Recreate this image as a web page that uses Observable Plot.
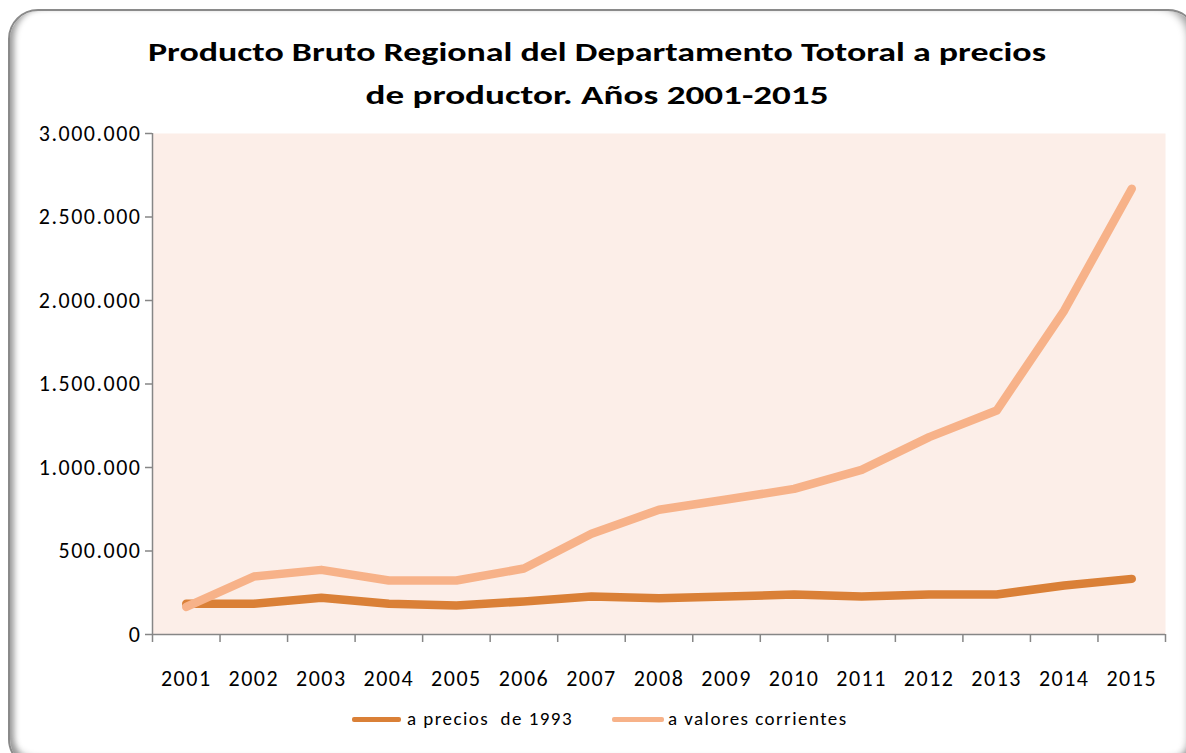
<!DOCTYPE html>
<html>
<head>
<meta charset="utf-8">
<script src="https://cdn.jsdelivr.net/npm/d3@7"></script>
<script src="https://cdn.jsdelivr.net/npm/@observablehq/plot@0.6"></script>
<style>
  html, body { margin: 0; padding: 0; background: #ffffff; }
  body { width: 1186px; height: 753px; position: relative; overflow: hidden; font-family: Carlito, Lato, sans-serif; }
  #frame {
    position: absolute; left: 8px; top: 9px; width: 1190px; height: 760px;
    box-sizing: border-box; border-radius: 30px;
    border: 2px solid #8a8a8a;
    background: #ffffff;
    box-shadow: inset 9px 0 6px -5px #9a9a9a, inset 0 -12px 8px -5px #8a8a8a, inset -12px 0 8px -5px #9a9a9a;
  }
  .tline {
    position: absolute; left: 597px; display: inline-block; white-space: nowrap;
    font-weight: 900; font-size: 27px; line-height: 27px; color: #000;
    transform-origin: 0 0;
  }
  #chart { position: absolute; left: 0; top: 120px; }
  #chart svg text { letter-spacing: 1.5px; }
  .leg { position: absolute; top: 707px; font-size: 19px; color: #000; white-space: nowrap; line-height: 24px; letter-spacing: 1.45px; }
  .sw { position: absolute; height: 5px; border-radius: 2px; top: 717px; }
</style>
</head>
<body>
<div id="frame"></div>
<span class="tline" id="t1" data-w="898" style="top:38px">Producto Bruto Regional del Departamento Totoral a precios</span>
<span class="tline" id="t2" data-w="463" style="top:81px">de productor. Años 2001-2015</span>
<div id="chart"></div>
<div class="sw" style="left:352px;width:49px;background:#DA8037"></div>
<div class="leg" style="left:407px">a precios&nbsp; de 1993</div>
<div class="sw" style="left:612px;width:52px;background:#F7B289"></div>
<div class="leg" style="left:668px">a valores corrientes</div>
<script>
const years = [2001, 2002, 2003, 2004, 2005, 2006, 2007, 2008, 2009, 2010, 2011, 2012, 2013, 2014, 2015];
const precios1993 = [184000, 184000, 220000, 184000, 174000, 198000, 228000, 217000, 227000, 240000, 228000, 240000, 240000, 293000, 333000];
const corrientes = [165000, 347000, 387000, 323000, 323000, 395000, 603000, 747000, 808000, 872000, 986000, 1182000, 1341000, 1940000, 2669000];
const yTicks = [0, 500000, 1000000, 1500000, 2000000, 2500000, 3000000];
const seriesNames = ["a precios de 1993", "a valores corrientes"];
const seriesColors = ["#DA8037", "#F7B289"];

// title lines: stretch horizontally to match the reference widths
for (const id of ["t1", "t2"]) {
  const el = document.getElementById(id);
  const w = el.getBoundingClientRect().width;
  const target = +el.dataset.w;
  const s = target / w;
  el.style.transform = `translateX(${-target / 2}px) scaleX(${s})`;
}

const dataA = years.map((y, i) => ({year: y, value: precios1993[i]}));
const dataB = years.map((y, i) => ({year: y, value: corrientes[i]}));
const boundaries = [years[0] - 0.5, ...years.map(y => y + 0.5)];

const loc = d3.formatLocale({decimal: ",", thousands: ".", grouping: [3], currency: ["", ""]});
const fmt = loc.format(",");

const chart = Plot.plot({
  width: 1186,
  height: 580,
  marginLeft: 152,
  marginRight: 21,
  marginTop: 13,
  marginBottom: 66,
  style: {background: "transparent", fontFamily: "Carlito, Lato, sans-serif", fontSize: "22px", color: "#000"},
  x: {domain: [boundaries[0], boundaries[boundaries.length - 1]], axis: null},
  y: {domain: [0, 3000000], axis: null},
  marks: [
    Plot.frame({fill: "#FCEEE8", stroke: null}),
    Plot.ruleX([boundaries[0]], {y1: 0, y2: 3000000, stroke: "#868686", strokeWidth: 1.5}),
    Plot.ruleY([0], {x1: boundaries[0], x2: boundaries[boundaries.length - 1], stroke: "#868686", strokeWidth: 1.5}),
    Plot.axisY({ticks: yTicks, tickSize: 7, tickPadding: 4, tickFormat: fmt, stroke: "#868686", strokeWidth: 1.5, fill: "#000", label: null}),
    Plot.axisX({ticks: boundaries, tickSize: 8, tickFormat: () => "", stroke: "#868686", strokeWidth: 1.5, label: null}),
    Plot.axisX({ticks: years, tickSize: 0, tickPadding: 36, tickFormat: d => String(d), fill: "#000", label: null}),
    Plot.line(dataA, {x: "year", y: "value", stroke: seriesColors[0], strokeWidth: 8.5, strokeLinecap: "round", strokeLinejoin: "round"}),
    Plot.line(dataB, {x: "year", y: "value", stroke: seriesColors[1], strokeWidth: 8.5, strokeLinecap: "round", strokeLinejoin: "round"})
  ]
});
document.getElementById("chart").appendChild(chart);
</script>
</body>
</html>
